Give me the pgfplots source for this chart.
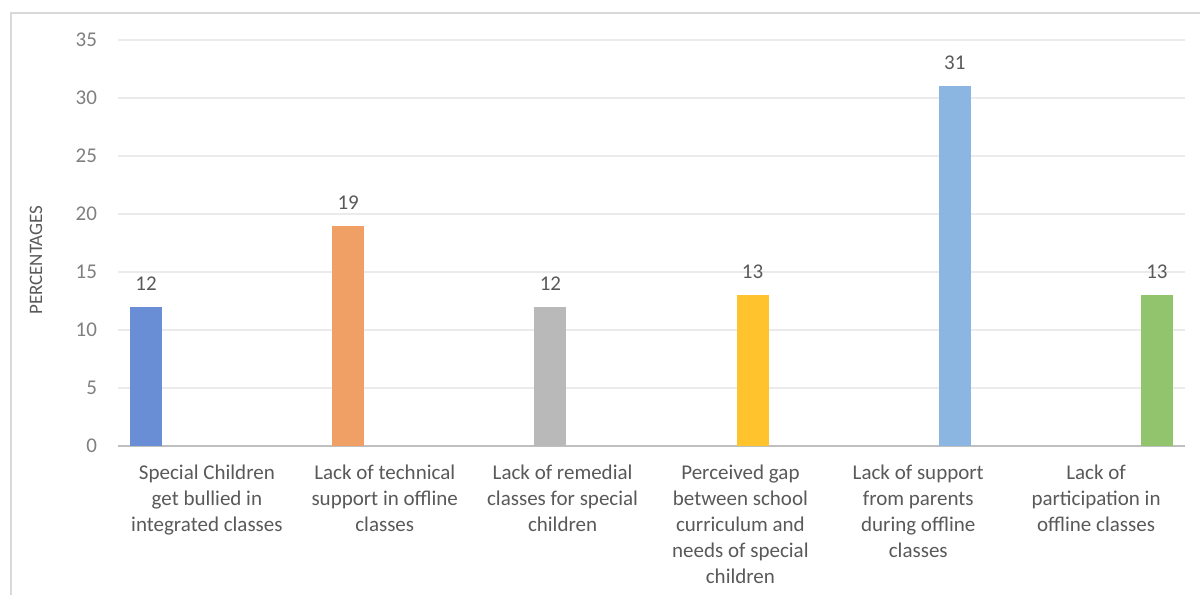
\documentclass[border=0pt]{standalone}
\usepackage{fontspec}
\setmainfont{Carlito}
\usepackage{pgfplots}
\pgfplotsset{compat=1.18}

\definecolor{cBlue}{HTML}{6A8ED6}
\definecolor{cOrange}{HTML}{F0A064}
\definecolor{cGray}{HTML}{B9B9B9}
\definecolor{cGold}{HTML}{FFC42D}
\definecolor{cSky}{HTML}{8CB6E2}
\definecolor{cGreen}{HTML}{92C46E}
\definecolor{frameGray}{HTML}{D9D9D9}
\definecolor{gridGray}{HTML}{EBEBEB}
\definecolor{axisGray}{HTML}{BFBFBF}
\definecolor{tickText}{HTML}{7F7F7F}
\definecolor{labelText}{HTML}{595959}

\begin{document}
\begin{tikzpicture}[x=1pt,y=1pt]
\useasboundingbox (0,0) rectangle (600,297.5);
% chart area border
\draw[frameGray, line width=1pt] (5.5,0) -- (5.5,291) -- (600,291);
\begin{axis}[
  at={(59pt,74.5pt)}, anchor=south west,
  scale only axis, width=533.5pt, height=203pt,
  xmin=-0.5, xmax=5.5, ymin=0, ymax=35,
  ytick={0,5,...,35},
  xtick={0,...,5},
  xticklabels={
    {Special Children\\get bullied in\\integrated classes},
    {Lack of technical\\support in offline\\classes},
    {Lack of remedial\\classes for special\\children},
    {Perceived gap\\between school\\curriculum and\\needs of special\\children},
    {Lack of support\\from parents\\during offline\\classes},
    {Lack of\\participation in\\offline classes}},
  axis x line*=bottom, axis y line*=left,
  y axis line style={draw=none},
  x axis line style={draw=axisGray, line width=0.8pt, -},
  major tick length=0pt,
  ymajorgrids, grid style={draw=gridGray, line width=0.8pt},
  /pgf/number format/assume math mode=true,
  yticklabel style={font=\fontsize{10.5}{12}\selectfont, text=tickText, xshift=-7pt},
  xticklabel style={font=\fontsize{10.5}{13}\selectfont, text=labelText, align=center, anchor=north, yshift=-6pt},
  ylabel={PERCENTAGES},
  every axis y label/.style={at={(axis description cs:0,0.458)}, anchor=center, xshift=-41pt, rotate=90, font=\fontsize{9.5}{11}\selectfont, text=labelText},
  ybar, bar width=0.18,
  nodes near coords,
  every node near coord/.append style={font=\fontsize{10.5}{12}\selectfont, text=labelText, yshift=4.7pt},
]
\addplot[fill=cBlue,   draw=none, bar shift=-0.3425] coordinates {(0,12)};
\addplot[fill=cOrange, draw=none, bar shift=-0.2055] coordinates {(1,19)};
\addplot[fill=cGray,   draw=none, bar shift=-0.0685] coordinates {(2,12)};
\addplot[fill=cGold,   draw=none, bar shift=0.0685]  coordinates {(3,13)};
\addplot[fill=cSky,    draw=none, bar shift=0.2055]  coordinates {(4,31)};
\addplot[fill=cGreen,  draw=none, bar shift=0.3425]  coordinates {(5,13)};
\end{axis}
\end{tikzpicture}
\end{document}
